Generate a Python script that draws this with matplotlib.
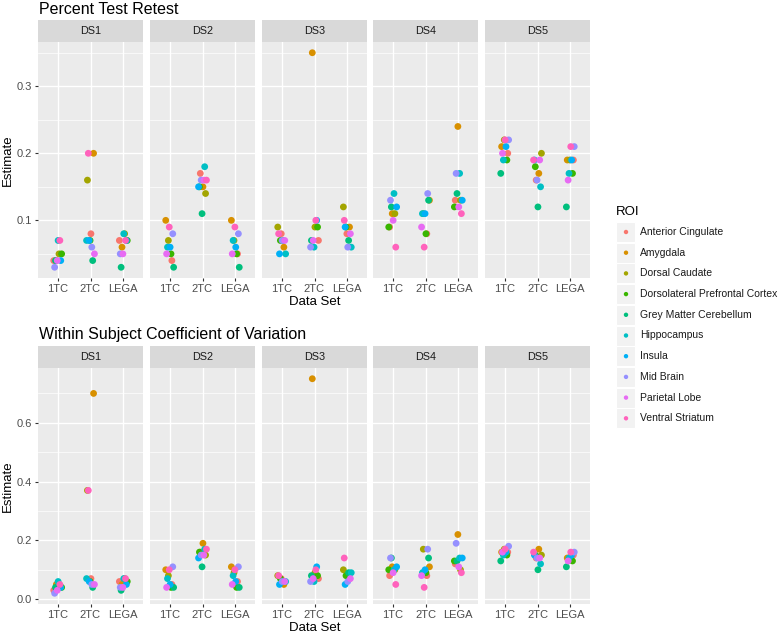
import numpy as np
import matplotlib
matplotlib.use('Agg')
from matplotlib import pyplot as plt
from matplotlib.patches import Rectangle

plt.rcParams['font.family'] = ['Liberation Sans', 'DejaVu Sans']

rois = ['Anterior Cingulate', 'Amygdala', 'Dorsal Caudate',
        'Dorsolateral Prefrontal Cortex', 'Grey Matter Cerebellum',
        'Hippocampus', 'Insula', 'Mid Brain', 'Parietal Lobe', 'Ventral Striatum']
colors = ['#F8766D', '#D89000', '#A3A500', '#39B600', '#00BF7D',
          '#00BFC4', '#00B0F6', '#9590FF', '#E76BF3', '#FF62BC']
datasets = ['DS1', 'DS2', 'DS3', 'DS4', 'DS5']
models = ['1TC', '2TC', 'LEGA']

# percent test retest, rows = 1TC, 2TC, LEGA; columns = ROI
ptr_ds1 = [[.04, .04, .05, .05, .04, .07, .04, .03, .04, .07],
           [.08, .20, .16, .07, .04, .07, .07, .06, .05, .20],
           [.07, .06, .08, .07, .03, .08, .07, .05, .05, .07]]
ptr_ds2 = [[.04, .10, .07, .05, .03, .06, .06, .08, .05, .09],
           [.17, .15, .14, .15, .11, .18, .15, .16, .16, .16],
           [.05, .10, .07, .05, .03, .07, .06, .08, .05, .09]]
ptr_ds3 = [[.08, .06, .09, .07, .07, .05, .05, .07, .07, .08],
           [.07, .35, .09, .09, .07, .06, .10, .06, .07, .10],
           [.08, .09, .12, .09, .07, .06, .09, .06, .08, .10]]
ptr_ds4 = [[.09, .11, .11, .09, .12, .14, .12, .13, .10, .06],
           [.08, .13, .11, .08, .13, .11, .11, .14, .09, .06],
           [.13, .24, .13, .12, .14, .17, .13, .17, .12, .11]]
ptr_ds5 = [[.20, .21, .22, .19, .17, .19, .21, .22, .20, .22],
           [.16, .17, .20, .18, .12, .15, .19, .16, .19, .19],
           [.19, .19, .19, .17, .12, .17, .19, .21, .16, .21]]

# within subject coefficient of variation
wscv_ds1 = [[.03, .05, .04, .04, .04, .06, .04, .02, .03, .05],
            [.07, .70, .37, .06, .04, .07, .06, .05, .05, .37],
            [.06, .05, .07, .06, .03, .07, .05, .04, .04, .07]]
wscv_ds2 = [[.05, .10, .08, .04, .04, .07, .05, .11, .04, .10],
            [.16, .19, .15, .16, .11, .17, .14, .15, .15, .17],
            [.06, .11, .09, .04, .04, .08, .06, .11, .05, .10]]
wscv_ds3 = [[.07, .05, .08, .07, .06, .06, .05, .06, .06, .08],
            [.07, .75, .09, .08, .08, .06, .11, .06, .07, .10],
            [.08, .07, .10, .08, .09, .09, .05, .06, .07, .14]]
wscv_ds4 = [[.08, .11, .10, .10, .14, .10, .11, .14, .09, .05],
            [.08, .11, .17, .09, .14, .09, .10, .17, .08, .04],
            [.12, .22, .10, .13, .13, .14, .14, .19, .11, .09]]
wscv_ds5 = [[.16, .16, .17, .15, .13, .15, .16, .18, .16, .17],
            [.14, .17, .15, .15, .10, .12, .15, .14, .14, .16],
            [.15, .14, .14, .13, .11, .14, .15, .16, .13, .16]]

W, H = 778, 635
fig = plt.figure(figsize=(W / 100, H / 100), dpi=100)


def px_axes(x, y, w, h):
    return fig.add_axes([x / W, 1 - (y + h) / H, w / W, h / H])


def draw_block(title, data, top, major, minor, fmt):
    allv = np.array(data).ravel()
    lo, hi = allv.min(), allv.max()
    pad = (hi - lo) * 0.05
    strip_h, panel_h = 22, 236
    fig.text(39 / W, 1 - (top - 11) / H, title, fontsize=11.5, va='center', ha='left')
    lefts = [38, 150, 262, 373, 485]
    for d, (ds, vals) in enumerate(zip(datasets, data)):
        sax = px_axes(lefts[d], top, 105, strip_h)
        sax.set_facecolor('#D9D9D9')
        sax.set_xticks([]); sax.set_yticks([])
        for s in sax.spines.values():
            s.set_visible(False)
        sax.text(0.5, 0.5, ds, ha='center', va='center', fontsize=7.8, color='#1A1A1A',
                 transform=sax.transAxes)
        ax = px_axes(lefts[d], top + strip_h, 105, panel_h)
        ax.set_facecolor('#EBEBEB')
        for s in ax.spines.values():
            s.set_visible(False)
        ax.set_xlim(-0.6, 2.6)
        ax.set_ylim(lo - pad, hi + pad)
        ax.set_yticks(major)
        ax.set_yticks(minor, minor=True)
        ax.set_xticks(range(3))
        ax.set_xticklabels(models)
        ax.grid(True, which='major', color='white', linewidth=1.0)
        ax.grid(True, which='minor', color='white', linewidth=0.5)
        ax.set_axisbelow(True)
        ax.tick_params(which='major', length=2.5, width=0.8, color='#333333',
                       labelsize=8, labelcolor='#4D4D4D', pad=2)
        ax.tick_params(which='minor', length=0)
        if d == 0:
            ax.set_yticklabels([fmt.format(v) for v in major])
            ax.set_ylabel('Estimate', fontsize=9.5, labelpad=2)
        else:
            ax.tick_params(axis='y', which='major', length=0, labelleft=False)
        if d == 2:
            ax.set_xlabel('Data Set', fontsize=9.5, labelpad=1)
        for m in range(3):
            for r in range(10):
                jit = (((r * 3 + m * 5 + d * 7) % 10) - 4.5) / 4.5 * 0.12
                ax.scatter(m + jit, vals[m][r], s=24, color=colors[r],
                           edgecolors='none', zorder=3)


draw_block('Percent Test Retest', [ptr_ds1, ptr_ds2, ptr_ds3, ptr_ds4, ptr_ds5], 20,
           [0.1, 0.2, 0.3], [0.05, 0.15, 0.25, 0.35], '{:.1f}')
draw_block('Within Subject Coefficient of Variation',
           [wscv_ds1, wscv_ds2, wscv_ds3, wscv_ds4, wscv_ds5], 346,
           [0.0, 0.2, 0.4, 0.6], [0.1, 0.3, 0.5, 0.7], '{:.1f}')

# legend
lax = px_axes(600, 195, 178, 240)
lax.set_xlim(600, 778)
lax.set_ylim(435, 195)
lax.axis('off')
lax.text(616, 212, 'ROI', fontsize=9.5, va='center', ha='left')
for i, (name, c) in enumerate(zip(rois, colors)):
    yc = 232 + i * 20.7
    lax.add_patch(Rectangle((616, yc - 10), 19, 20, facecolor='#F2F2F2', edgecolor='white',
                            linewidth=0.8))
    lax.scatter(626, yc, s=10, color=c, edgecolors='none', zorder=3)
    lax.text(640, yc, name, fontsize=7.5, va='center', ha='left', color='#1A1A1A')

fig.savefig('out.png', dpi=100)
